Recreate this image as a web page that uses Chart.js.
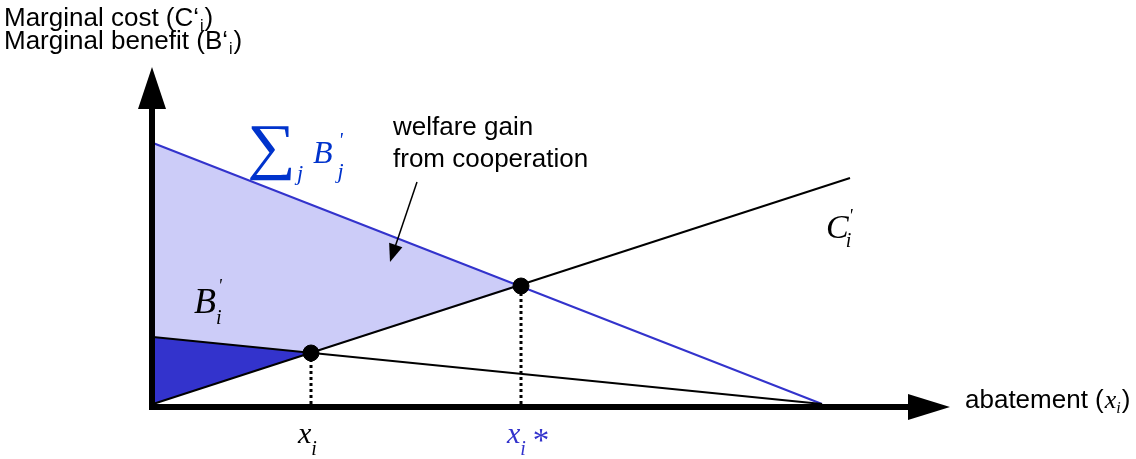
<!DOCTYPE html>
<html>
<head>
<meta charset="utf-8">
<script src="https://cdn.jsdelivr.net/npm/chart.js@4/dist/chart.umd.min.js"></script>
<style>
body { margin: 0; background: #fff; }
</style>
</head>
<body>
<canvas id="chart" width="1136" height="459"></canvas>
<script>
// curves as (abatement, marginal value)
const sumBenefitX = [0, 669];
const sumBenefitY = [261, 0];
const costX = [0, 697];
const costY = [0, 226];
const benefitX = [0, 669];
const benefitY = [67, 0];
// equilibria: non-cooperative x_i, cooperative x_i*
const eqX = [158, 368];
const eqY = [51, 118];

const BLUE = '#3333cc';
const SANS = '"Liberation Sans", Arial, sans-serif';
const SERIF = '"Liberation Serif", "Times New Roman", serif';

const pts = (xs, ys) => xs.map((x, i) => ({x: x, y: ys[i]}));

// shaded areas: welfare gain triangle and non-cooperative surplus
const gainArea = [{x: 0, y: 0}, {x: 0, y: sumBenefitY[0]}, {x: eqX[1], y: eqY[1]}, {x: 0, y: 0}];
const nashArea = [{x: 0, y: 0}, {x: 0, y: benefitY[0]}, {x: eqX[0], y: eqY[0]}, {x: 0, y: 0}];

function put(ctx, s, x, y, font, color) {
    ctx.font = font;
    ctx.fillStyle = color || '#000';
    ctx.fillText(s, x, y);
    return x + ctx.measureText(s).width;
}

const decorations = {
    id: 'decorations',
    afterDatasetsDraw(chart) {
        const ctx = chart.ctx;
        const px = v => chart.scales.x.getPixelForValue(v);
        const py = v => chart.scales.y.getPixelForValue(v);
        const x0 = px(0), y0 = py(0);
        ctx.save();

        //axes
        ctx.strokeStyle = '#000';
        ctx.fillStyle = '#000';
        ctx.lineWidth = 6;
        ctx.beginPath();
        ctx.moveTo(x0 - 1, y0 + 6);
        ctx.lineTo(x0 - 1, 109);
        ctx.moveTo(x0 - 4, y0 + 3);
        ctx.lineTo(908, y0 + 3);
        ctx.stroke();
        ctx.beginPath();
        ctx.moveTo(x0 - 1, 67);
        ctx.lineTo(x0 - 15, 109);
        ctx.lineTo(x0 + 13, 109);
        ctx.closePath();
        ctx.fill();
        ctx.beginPath();
        ctx.moveTo(950, y0 + 3);
        ctx.lineTo(908, y0 - 10);
        ctx.lineTo(908, y0 + 16);
        ctx.closePath();
        ctx.fill();

        //arrow pointing into the welfare gain
        const ax = 417, ay = 182, bx = 390, by = 262;
        const ang = Math.atan2(by - ay, bx - ax);
        ctx.lineWidth = 1.5;
        ctx.beginPath();
        ctx.moveTo(ax, ay);
        ctx.lineTo(bx - 16 * Math.cos(ang), by - 16 * Math.sin(ang));
        ctx.stroke();
        ctx.beginPath();
        ctx.moveTo(bx, by);
        ctx.lineTo(bx - 18 * Math.cos(ang) + 7 * Math.sin(ang), by - 18 * Math.sin(ang) - 7 * Math.cos(ang));
        ctx.lineTo(bx - 18 * Math.cos(ang) - 7 * Math.sin(ang), by - 18 * Math.sin(ang) + 7 * Math.cos(ang));
        ctx.closePath();
        ctx.fill();

        ctx.textBaseline = 'alphabetic';
        let x;
        //axis titles
        x = put(ctx, 'Marginal cost (C\u2018', 4, 26, '26px ' + SANS);
        x = put(ctx, 'i', x + 1, 31, '16px ' + SANS);
        put(ctx, ')', x + 1, 26, '26px ' + SANS);
        x = put(ctx, 'Marginal benefit (B\u2018', 4, 49, '26px ' + SANS);
        x = put(ctx, 'i', x + 1, 54, '16px ' + SANS);
        put(ctx, ')', x + 1, 49, '26px ' + SANS);

        x = put(ctx, 'abatement (', 965, 408, '26px ' + SANS);
        x = put(ctx, 'x', x + 1, 408, 'italic 26px ' + SERIF);
        x = put(ctx, 'i', x, 413, 'italic 16px ' + SERIF);
        put(ctx, ')', x + 1, 408, '26px ' + SANS);

        put(ctx, 'welfare gain', 393, 135, '26px ' + SANS);
        put(ctx, 'from cooperation', 393, 167, '26px ' + SANS);

        //curve labels
        const DB = '#0033cc';
        ctx.save();
        ctx.translate(247, 167);
        ctx.scale(1.1, 1);
        put(ctx, '\u2211', 0, 0, '62px ' + SERIF, DB);
        ctx.restore();
        put(ctx, 'j', 297, 180, 'italic 22px ' + SERIF, DB);
        x = put(ctx, 'B', 313, 163, 'italic 32px ' + SERIF, DB);
        put(ctx, "'", x + 6, 147, 'italic 20px ' + SERIF, DB);
        put(ctx, 'j', x + 5, 178, 'italic 22px ' + SERIF, DB);

        x = put(ctx, 'C', 826, 238, 'italic 34px ' + SERIF);
        put(ctx, "'", x, 222, 'italic 18px ' + SERIF);
        put(ctx, 'i', x - 3, 247, 'italic 20px ' + SERIF);

        x = put(ctx, 'B', 194, 313, 'italic 36px ' + SERIF);
        put(ctx, "'", x + 2, 292, 'italic 18px ' + SERIF);
        put(ctx, 'i', x, 324, 'italic 20px ' + SERIF);

        //equilibrium labels under the axis
        x = put(ctx, 'x', px(eqX[0]) - 13, 443, 'italic 30px ' + SERIF);
        put(ctx, 'i', x, 455, 'italic 20px ' + SERIF);
        x = put(ctx, 'x', px(eqX[1]) - 14, 443, 'italic 30px ' + SERIF, BLUE);
        x = put(ctx, 'i', x, 455, 'italic 20px ' + SERIF, BLUE);
        put(ctx, '*', x + 7, 451, '33px ' + SERIF, BLUE);

        ctx.restore();
    }
};

const lineDs = (label, data, color, width, order) => ({
    label: label,
    data: data,
    showLine: true,
    borderColor: color,
    borderWidth: width,
    pointRadius: 0,
    fill: false,
    clip: false,
    order: order
});

const config = {
    type: 'scatter',
    data: {
        datasets: [
            {
                label: 'Welfare gain',
                data: gainArea,
                showLine: true,
                borderWidth: 0,
                borderColor: 'rgba(0,0,0,0)',
                backgroundColor: '#ccccf8',
                pointRadius: 0,
                fill: 'shape',
                order: 20
            },
            {
                label: 'Non-cooperative',
                data: nashArea,
                showLine: true,
                borderWidth: 0,
                borderColor: 'rgba(0,0,0,0)',
                backgroundColor: BLUE,
                pointRadius: 0,
                fill: 'shape',
                order: 19
            },
            lineDs('Sum B', pts(sumBenefitX, sumBenefitY), BLUE, 2, 10),
            lineDs('C', pts(costX, costY), '#000', 2, 9),
            lineDs('B', pts(benefitX, benefitY), '#000', 2, 8),
            {
                label: 'x_i',
                data: [{x: eqX[0], y: 0}, {x: eqX[0], y: eqY[0]}],
                showLine: true,
                borderColor: '#000',
                borderWidth: 3,
                borderDash: [3, 3],
                pointRadius: 0,
                order: 7
            },
            {
                label: 'x_i*',
                data: [{x: eqX[1], y: 0}, {x: eqX[1], y: eqY[1]}],
                showLine: true,
                borderColor: '#000',
                borderWidth: 3,
                borderDash: [3, 3],
                pointRadius: 0,
                order: 6
            },
            {
                label: 'equilibria',
                data: pts(eqX, eqY),
                pointRadius: 8,
                pointBackgroundColor: '#000',
                pointBorderColor: '#000',
                showLine: false,
                order: 1
            }
        ]
    },
    options: {
        responsive: false,
        animation: false,
        layout: { padding: { left: 153, right: 183, top: 64, bottom: 55 } },
        scales: {
            x: { type: 'linear', min: 0, max: 800, display: false },
            y: { type: 'linear', min: 0, max: 340, display: false }
        },
        plugins: { legend: { display: false }, tooltip: { enabled: false } }
    },
    plugins: [decorations]
};

var chart = new Chart(document.getElementById('chart'), config);
</script>
</body>
</html>
